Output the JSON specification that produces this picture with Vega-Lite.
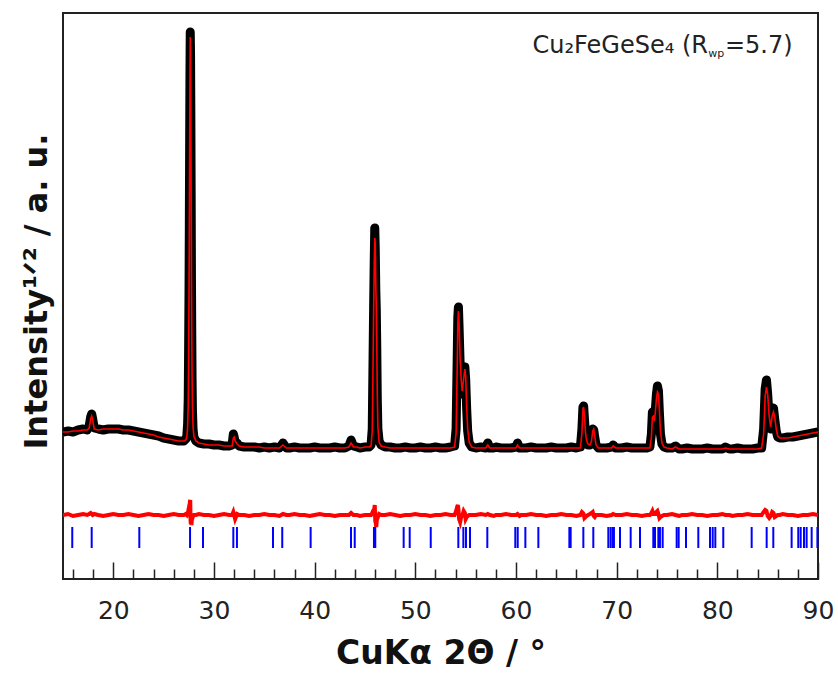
{
  "$schema": "https://vega.github.io/schema/vega-lite/v6.json",
  "width": 755,
  "height": 566,
  "autosize": {"type": "none"},
  "padding": {"left": 63, "top": 13, "right": 20, "bottom": 96},
  "background": "white",
  "config": {
    "view": {"stroke": "#222222", "strokeWidth": 2},
    "axis": {"grid": false}
  },
  "resolve": {"axis": {"x": "independent"}},
  "datasets": {
    "scan": [
      {"t": 15.0, "o": 147, "c": 147, "d": 64},
      {"t": 15.5, "o": 148, "c": 147, "d": 65},
      {"t": 16.0, "o": 147, "c": 148, "d": 63},
      {"t": 16.5, "o": 149, "c": 148, "d": 64},
      {"t": 17.0, "o": 150, "c": 149, "d": 65},
      {"t": 17.4, "o": 149, "c": 149, "d": 64},
      {"t": 17.6, "o": 153, "c": 151, "d": 65},
      {"t": 17.75, "o": 162, "c": 160, "d": 66},
      {"t": 17.85, "o": 165, "c": 163, "d": 65},
      {"t": 17.95, "o": 160, "c": 159, "d": 64},
      {"t": 18.1, "o": 151, "c": 150, "d": 65},
      {"t": 18.5, "o": 150, "c": 149, "d": 64},
      {"t": 19.0, "o": 149, "c": 150, "d": 63},
      {"t": 19.5, "o": 150, "c": 150, "d": 64},
      {"t": 20.0, "o": 150, "c": 150, "d": 65},
      {"t": 20.5, "o": 150, "c": 150, "d": 64},
      {"t": 21.0, "o": 149, "c": 149, "d": 64},
      {"t": 21.5, "o": 149, "c": 149, "d": 65},
      {"t": 22.0, "o": 148, "c": 148, "d": 64},
      {"t": 22.5, "o": 147, "c": 147, "d": 63},
      {"t": 23.0, "o": 146, "c": 146, "d": 64},
      {"t": 23.5, "o": 145, "c": 145, "d": 65},
      {"t": 24.0, "o": 144, "c": 144, "d": 64},
      {"t": 24.5, "o": 143, "c": 142, "d": 64},
      {"t": 25.0, "o": 141, "c": 141, "d": 63},
      {"t": 25.5, "o": 140, "c": 140, "d": 64},
      {"t": 26.0, "o": 139, "c": 139, "d": 65},
      {"t": 26.5, "o": 138, "c": 138, "d": 64},
      {"t": 27.0, "o": 138, "c": 138, "d": 64},
      {"t": 27.2, "o": 140, "c": 139, "d": 65},
      {"t": 27.3, "o": 143, "c": 142, "d": 64},
      {"t": 27.38, "o": 155, "c": 152, "d": 66},
      {"t": 27.44, "o": 180, "c": 175, "d": 68},
      {"t": 27.48, "o": 230, "c": 222, "d": 70},
      {"t": 27.52, "o": 290, "c": 285, "d": 69},
      {"t": 27.55, "o": 354, "c": 350, "d": 72},
      {"t": 27.58, "o": 430, "c": 424, "d": 74},
      {"t": 27.61, "o": 500, "c": 495, "d": 78},
      {"t": 27.64, "o": 547, "c": 542, "d": 79},
      {"t": 27.67, "o": 524, "c": 530, "d": 58},
      {"t": 27.70, "o": 465, "c": 470, "d": 55},
      {"t": 27.73, "o": 387, "c": 392, "d": 56},
      {"t": 27.76, "o": 302, "c": 310, "d": 54},
      {"t": 27.79, "o": 245, "c": 250, "d": 58},
      {"t": 27.82, "o": 200, "c": 205, "d": 60},
      {"t": 27.86, "o": 168, "c": 172, "d": 61},
      {"t": 27.92, "o": 150, "c": 152, "d": 63},
      {"t": 28.0, "o": 142, "c": 143, "d": 64},
      {"t": 28.2, "o": 138, "c": 138, "d": 64},
      {"t": 28.5, "o": 136, "c": 136, "d": 65},
      {"t": 29.0, "o": 135, "c": 135, "d": 64},
      {"t": 29.5, "o": 135, "c": 134, "d": 64},
      {"t": 30.0, "o": 134, "c": 134, "d": 63},
      {"t": 30.5, "o": 134, "c": 134, "d": 64},
      {"t": 31.0, "o": 133, "c": 133, "d": 65},
      {"t": 31.5, "o": 133, "c": 133, "d": 64},
      {"t": 31.8, "o": 134, "c": 133, "d": 64},
      {"t": 31.92, "o": 145, "c": 141, "d": 67},
      {"t": 32.0, "o": 142, "c": 142, "d": 64},
      {"t": 32.1, "o": 137, "c": 138, "d": 60},
      {"t": 32.3, "o": 136, "c": 135, "d": 65},
      {"t": 32.5, "o": 133, "c": 133, "d": 64},
      {"t": 33.0, "o": 132, "c": 132, "d": 64},
      {"t": 33.5, "o": 132, "c": 132, "d": 63},
      {"t": 34.0, "o": 132, "c": 132, "d": 64},
      {"t": 34.5, "o": 131, "c": 132, "d": 64},
      {"t": 35.0, "o": 132, "c": 131, "d": 65},
      {"t": 35.5, "o": 131, "c": 131, "d": 64},
      {"t": 36.0, "o": 132, "c": 131, "d": 64},
      {"t": 36.5, "o": 131, "c": 131, "d": 63},
      {"t": 36.85, "o": 136, "c": 134, "d": 65},
      {"t": 37.2, "o": 131, "c": 131, "d": 64},
      {"t": 37.5, "o": 131, "c": 131, "d": 64},
      {"t": 38.0, "o": 132, "c": 131, "d": 65},
      {"t": 38.5, "o": 131, "c": 131, "d": 64},
      {"t": 39.0, "o": 131, "c": 131, "d": 64},
      {"t": 39.5, "o": 131, "c": 131, "d": 63},
      {"t": 40.0, "o": 132, "c": 131, "d": 64},
      {"t": 40.5, "o": 131, "c": 131, "d": 65},
      {"t": 41.0, "o": 131, "c": 131, "d": 64},
      {"t": 41.5, "o": 131, "c": 131, "d": 64},
      {"t": 42.0, "o": 132, "c": 131, "d": 63},
      {"t": 42.5, "o": 131, "c": 131, "d": 64},
      {"t": 43.0, "o": 131, "c": 131, "d": 64},
      {"t": 43.4, "o": 133, "c": 132, "d": 64},
      {"t": 43.62, "o": 139, "c": 136, "d": 66},
      {"t": 43.85, "o": 133, "c": 132, "d": 64},
      {"t": 44.2, "o": 132, "c": 132, "d": 64},
      {"t": 44.5, "o": 131, "c": 131, "d": 63},
      {"t": 45.0, "o": 132, "c": 132, "d": 64},
      {"t": 45.4, "o": 132, "c": 132, "d": 64},
      {"t": 45.6, "o": 134, "c": 133, "d": 64},
      {"t": 45.72, "o": 150, "c": 148, "d": 66},
      {"t": 45.8, "o": 220, "c": 215, "d": 68},
      {"t": 45.86, "o": 274, "c": 270, "d": 69},
      {"t": 45.92, "o": 320, "c": 315, "d": 70},
      {"t": 45.97, "o": 351, "c": 341, "d": 74},
      {"t": 46.02, "o": 330, "c": 335, "d": 58},
      {"t": 46.07, "o": 290, "c": 295, "d": 56},
      {"t": 46.12, "o": 270, "c": 272, "d": 52},
      {"t": 46.17, "o": 230, "c": 235, "d": 59},
      {"t": 46.22, "o": 180, "c": 185, "d": 60},
      {"t": 46.28, "o": 150, "c": 152, "d": 62},
      {"t": 46.4, "o": 138, "c": 137, "d": 65},
      {"t": 46.6, "o": 134, "c": 133, "d": 64},
      {"t": 47.0, "o": 132, "c": 132, "d": 64},
      {"t": 47.5, "o": 132, "c": 131, "d": 65},
      {"t": 48.0, "o": 131, "c": 131, "d": 64},
      {"t": 48.5, "o": 131, "c": 131, "d": 63},
      {"t": 49.0, "o": 132, "c": 131, "d": 64},
      {"t": 49.5, "o": 131, "c": 131, "d": 64},
      {"t": 50.0, "o": 131, "c": 131, "d": 65},
      {"t": 50.5, "o": 132, "c": 131, "d": 64},
      {"t": 51.0, "o": 131, "c": 131, "d": 64},
      {"t": 51.5, "o": 131, "c": 131, "d": 63},
      {"t": 52.0, "o": 132, "c": 131, "d": 64},
      {"t": 52.5, "o": 131, "c": 131, "d": 64},
      {"t": 53.0, "o": 131, "c": 131, "d": 65},
      {"t": 53.5, "o": 132, "c": 131, "d": 64},
      {"t": 53.9, "o": 133, "c": 132, "d": 64},
      {"t": 54.05, "o": 150, "c": 146, "d": 68},
      {"t": 54.15, "o": 215, "c": 205, "d": 72},
      {"t": 54.22, "o": 262, "c": 255, "d": 74},
      {"t": 54.28, "o": 272, "c": 268, "d": 70},
      {"t": 54.35, "o": 250, "c": 255, "d": 60},
      {"t": 54.45, "o": 215, "c": 220, "d": 57},
      {"t": 54.55, "o": 195, "c": 200, "d": 62},
      {"t": 54.65, "o": 185, "c": 188, "d": 63},
      {"t": 54.8, "o": 205, "c": 200, "d": 68},
      {"t": 54.92, "o": 212, "c": 210, "d": 66},
      {"t": 55.0, "o": 200, "c": 203, "d": 60},
      {"t": 55.1, "o": 170, "c": 172, "d": 62},
      {"t": 55.2, "o": 148, "c": 150, "d": 63},
      {"t": 55.35, "o": 136, "c": 137, "d": 64},
      {"t": 55.6, "o": 132, "c": 132, "d": 64},
      {"t": 56.0, "o": 131, "c": 131, "d": 64},
      {"t": 56.5, "o": 132, "c": 131, "d": 65},
      {"t": 57.0, "o": 131, "c": 131, "d": 64},
      {"t": 57.2, "o": 136, "c": 134, "d": 65},
      {"t": 57.4, "o": 131, "c": 131, "d": 64},
      {"t": 57.8, "o": 131, "c": 131, "d": 63},
      {"t": 58.0, "o": 132, "c": 131, "d": 64},
      {"t": 58.5, "o": 131, "c": 131, "d": 64},
      {"t": 59.0, "o": 131, "c": 131, "d": 65},
      {"t": 59.5, "o": 131, "c": 131, "d": 64},
      {"t": 60.0, "o": 132, "c": 131, "d": 64},
      {"t": 60.15, "o": 136, "c": 134, "d": 65},
      {"t": 60.35, "o": 131, "c": 131, "d": 63},
      {"t": 60.5, "o": 131, "c": 131, "d": 64},
      {"t": 61.0, "o": 131, "c": 131, "d": 64},
      {"t": 61.5, "o": 132, "c": 131, "d": 65},
      {"t": 62.0, "o": 131, "c": 131, "d": 64},
      {"t": 62.5, "o": 131, "c": 131, "d": 64},
      {"t": 63.0, "o": 131, "c": 131, "d": 63},
      {"t": 63.5, "o": 132, "c": 131, "d": 64},
      {"t": 64.0, "o": 131, "c": 131, "d": 64},
      {"t": 64.5, "o": 131, "c": 131, "d": 65},
      {"t": 65.0, "o": 131, "c": 131, "d": 64},
      {"t": 65.5, "o": 132, "c": 131, "d": 64},
      {"t": 66.0, "o": 131, "c": 131, "d": 63},
      {"t": 66.4, "o": 132, "c": 131, "d": 64},
      {"t": 66.55, "o": 150, "c": 146, "d": 67},
      {"t": 66.65, "o": 172, "c": 170, "d": 66},
      {"t": 66.72, "o": 173, "c": 172, "d": 65},
      {"t": 66.8, "o": 160, "c": 163, "d": 61},
      {"t": 66.9, "o": 145, "c": 147, "d": 62},
      {"t": 67.0, "o": 138, "c": 139, "d": 63},
      {"t": 67.15, "o": 134, "c": 135, "d": 64},
      {"t": 67.35, "o": 134, "c": 134, "d": 65},
      {"t": 67.5, "o": 140, "c": 138, "d": 66},
      {"t": 67.62, "o": 150, "c": 148, "d": 67},
      {"t": 67.72, "o": 149, "c": 150, "d": 63},
      {"t": 67.82, "o": 142, "c": 143, "d": 62},
      {"t": 67.95, "o": 134, "c": 134, "d": 64},
      {"t": 68.2, "o": 131, "c": 131, "d": 64},
      {"t": 68.5, "o": 131, "c": 131, "d": 64},
      {"t": 69.0, "o": 131, "c": 131, "d": 63},
      {"t": 69.5, "o": 132, "c": 131, "d": 64},
      {"t": 69.65, "o": 134, "c": 133, "d": 65},
      {"t": 69.9, "o": 131, "c": 131, "d": 64},
      {"t": 70.5, "o": 131, "c": 131, "d": 64},
      {"t": 71.0, "o": 132, "c": 131, "d": 65},
      {"t": 71.5, "o": 131, "c": 131, "d": 64},
      {"t": 72.0, "o": 131, "c": 131, "d": 64},
      {"t": 72.5, "o": 131, "c": 131, "d": 63},
      {"t": 73.0, "o": 131, "c": 131, "d": 64},
      {"t": 73.3, "o": 132, "c": 131, "d": 64},
      {"t": 73.45, "o": 145, "c": 142, "d": 66},
      {"t": 73.55, "o": 167, "c": 162, "d": 68},
      {"t": 73.65, "o": 165, "c": 163, "d": 65},
      {"t": 73.75, "o": 160, "c": 158, "d": 65},
      {"t": 73.85, "o": 170, "c": 168, "d": 65},
      {"t": 73.95, "o": 185, "c": 180, "d": 67},
      {"t": 74.05, "o": 193, "c": 187, "d": 68},
      {"t": 74.15, "o": 188, "c": 185, "d": 65},
      {"t": 74.25, "o": 165, "c": 168, "d": 61},
      {"t": 74.35, "o": 145, "c": 148, "d": 62},
      {"t": 74.5, "o": 135, "c": 136, "d": 63},
      {"t": 74.7, "o": 132, "c": 132, "d": 64},
      {"t": 75.0, "o": 131, "c": 131, "d": 64},
      {"t": 75.5, "o": 131, "c": 130, "d": 65},
      {"t": 75.85, "o": 133, "c": 132, "d": 64},
      {"t": 76.2, "o": 130, "c": 130, "d": 63},
      {"t": 76.5, "o": 130, "c": 130, "d": 64},
      {"t": 77.0, "o": 131, "c": 130, "d": 64},
      {"t": 77.5, "o": 130, "c": 130, "d": 65},
      {"t": 78.0, "o": 130, "c": 130, "d": 64},
      {"t": 78.5, "o": 130, "c": 130, "d": 64},
      {"t": 79.0, "o": 131, "c": 130, "d": 63},
      {"t": 79.5, "o": 130, "c": 130, "d": 64},
      {"t": 80.0, "o": 130, "c": 130, "d": 64},
      {"t": 80.5, "o": 130, "c": 130, "d": 65},
      {"t": 80.8, "o": 132, "c": 131, "d": 64},
      {"t": 81.2, "o": 130, "c": 130, "d": 64},
      {"t": 81.5, "o": 130, "c": 130, "d": 63},
      {"t": 82.0, "o": 131, "c": 130, "d": 64},
      {"t": 82.5, "o": 130, "c": 130, "d": 64},
      {"t": 83.0, "o": 130, "c": 130, "d": 65},
      {"t": 83.5, "o": 130, "c": 130, "d": 64},
      {"t": 84.0, "o": 131, "c": 130, "d": 64},
      {"t": 84.4, "o": 131, "c": 131, "d": 64},
      {"t": 84.6, "o": 150, "c": 145, "d": 67},
      {"t": 84.75, "o": 190, "c": 183, "d": 69},
      {"t": 84.88, "o": 199, "c": 192, "d": 68},
      {"t": 85.0, "o": 185, "c": 185, "d": 63},
      {"t": 85.15, "o": 160, "c": 163, "d": 61},
      {"t": 85.3, "o": 150, "c": 152, "d": 63},
      {"t": 85.45, "o": 168, "c": 163, "d": 67},
      {"t": 85.58, "o": 171, "c": 167, "d": 66},
      {"t": 85.7, "o": 160, "c": 162, "d": 62},
      {"t": 85.85, "o": 148, "c": 150, "d": 63},
      {"t": 86.0, "o": 142, "c": 143, "d": 64},
      {"t": 86.2, "o": 141, "c": 141, "d": 64},
      {"t": 86.5, "o": 141, "c": 141, "d": 65},
      {"t": 87.0, "o": 142, "c": 141, "d": 64},
      {"t": 87.5, "o": 142, "c": 142, "d": 64},
      {"t": 88.0, "o": 143, "c": 143, "d": 63},
      {"t": 88.5, "o": 144, "c": 144, "d": 64},
      {"t": 89.0, "o": 145, "c": 145, "d": 64},
      {"t": 89.5, "o": 146, "c": 146, "d": 65},
      {"t": 90.0, "o": 147, "c": 147, "d": 64}
    ],
    "bragg": [
      {"t": 15.92}, {"t": 17.85}, {"t": 22.58}, {"t": 27.62}, {"t": 28.91},
      {"t": 31.92}, {"t": 32.28}, {"t": 35.86}, {"t": 36.78}, {"t": 39.6},
      {"t": 43.61}, {"t": 43.98}, {"t": 45.89}, {"t": 46.02}, {"t": 48.84},
      {"t": 49.44}, {"t": 51.53}, {"t": 54.27}, {"t": 54.77}, {"t": 55.03},
      {"t": 55.43}, {"t": 57.15}, {"t": 59.93}, {"t": 60.17}, {"t": 60.93},
      {"t": 62.22}, {"t": 65.3}, {"t": 65.43}, {"t": 66.69}, {"t": 67.68},
      {"t": 69.17}, {"t": 69.4}, {"t": 69.6}, {"t": 69.73}, {"t": 70.33},
      {"t": 71.39}, {"t": 72.32}, {"t": 73.64}, {"t": 73.81}, {"t": 74.14},
      {"t": 74.3}, {"t": 74.57}, {"t": 75.96}, {"t": 76.16}, {"t": 76.89},
      {"t": 78.11}, {"t": 79.27}, {"t": 79.54}, {"t": 79.8}, {"t": 80.59},
      {"t": 83.41}, {"t": 84.9}, {"t": 85.56}, {"t": 87.38}, {"t": 88.04},
      {"t": 88.28}, {"t": 88.61}, {"t": 88.87}, {"t": 89.37}, {"t": 89.94}
    ]
  },
  "layer": [
    {
      "data": {"name": "scan"},
      "mark": {"type": "line", "color": "#000000", "strokeWidth": 9, "strokeJoin": "round", "clip": true},
      "encoding": {
        "x": {
          "field": "t", "type": "quantitative",
          "scale": {"domain": [15, 90], "nice": false, "zero": false},
          "axis": {
            "orient": "bottom",
            "values": [20, 30, 40, 50, 60, 70, 80, 90],
            "tickSize": -17, "tickWidth": 1.5, "tickColor": "#222222",
            "domain": false, "grid": false,
            "labelFont": "DejaVu Sans", "labelFontSize": 25, "labelColor": "#222222",
            "labelPadding": 36, "labelFlush": false,
            "title": "CuKα 2Θ / °",
            "titleFont": "DejaVu Sans", "titleFontSize": 33, "titleFontWeight": "bold",
            "titleColor": "#111111", "titlePadding": 14
          }
        },
        "y": {
          "field": "o", "type": "quantitative",
          "scale": {"domain": [0, 566], "nice": false, "zero": false},
          "axis": {
            "orient": "left",
            "values": [283],
            "labels": true, "labelOpacity": 0, "labelFontSize": 1,
            "ticks": false, "grid": false, "domain": false,
            "title": "Intensity¹ᐟ²  /  a. u.",
            "titleFont": "DejaVu Sans", "titleFontSize": 32, "titleFontWeight": "bold",
            "titleColor": "#111111",
            "titleAngle": -90, "titleX": -17, "titleY": 278,
            "titleAlign": "center", "titleBaseline": "alphabetic"
          }
        }
      }
    },
    {
      "data": {"name": "scan"},
      "mark": {"type": "point", "filled": true, "color": "#000000", "size": 45, "opacity": 1, "clip": true},
      "encoding": {
        "x": {
          "field": "t", "type": "quantitative",
          "axis": {
            "orient": "bottom",
            "values": [16, 18, 22, 24, 26, 28, 32, 34, 36, 38, 42, 44, 46, 48, 52, 54, 56, 58, 62, 64, 66, 68, 72, 74, 76, 78, 82, 84, 86, 88],
            "tickSize": -10, "tickWidth": 1.5, "tickColor": "#222222",
            "domain": false, "grid": false, "labels": false, "title": null
          }
        },
        "y": {"field": "o", "type": "quantitative"}
      }
    },
    {
      "data": {"name": "scan"},
      "mark": {"type": "line", "color": "#ff0000", "strokeWidth": 1.6, "clip": true},
      "encoding": {
        "x": {"field": "t", "type": "quantitative", "axis": null},
        "y": {"field": "c", "type": "quantitative"}
      }
    },
    {
      "data": {"name": "scan"},
      "mark": {"type": "line", "color": "#ff0000", "strokeWidth": 4, "clip": true},
      "encoding": {
        "x": {"field": "t", "type": "quantitative", "axis": null},
        "y": {"field": "d", "type": "quantitative"}
      }
    },
    {
      "data": {"name": "bragg"},
      "mark": {"type": "rule", "color": "#0000ff", "strokeWidth": 2},
      "encoding": {
        "x": {"field": "t", "type": "quantitative", "axis": null},
        "y": {"datum": 52, "type": "quantitative"},
        "y2": {"datum": 31}
      }
    },
    {
      "data": {"values": [{"t": 79.07, "v": 526, "label": "Cu₂FeGeSe₄ (R"}]},
      "mark": {"type": "text", "align": "right", "baseline": "alphabetic", "font": "DejaVu Sans", "fontSize": 24, "color": "#222222"},
      "encoding": {
        "x": {"field": "t", "type": "quantitative", "axis": null},
        "y": {"field": "v", "type": "quantitative"},
        "text": {"field": "label"}
      }
    },
    {
      "data": {"values": [{"t": 79.1, "v": 522, "label": "wp"}]},
      "mark": {"type": "text", "align": "left", "baseline": "alphabetic", "font": "DejaVu Sans", "fontSize": 11, "color": "#222222"},
      "encoding": {
        "x": {"field": "t", "type": "quantitative", "axis": null},
        "y": {"field": "v", "type": "quantitative"},
        "text": {"field": "label"}
      }
    },
    {
      "data": {"values": [{"t": 80.75, "v": 526, "label": "=5.7)"}]},
      "mark": {"type": "text", "align": "left", "baseline": "alphabetic", "font": "DejaVu Sans", "fontSize": 24, "color": "#222222"},
      "encoding": {
        "x": {"field": "t", "type": "quantitative", "axis": null},
        "y": {"field": "v", "type": "quantitative"},
        "text": {"field": "label"}
      }
    }
  ]
}
